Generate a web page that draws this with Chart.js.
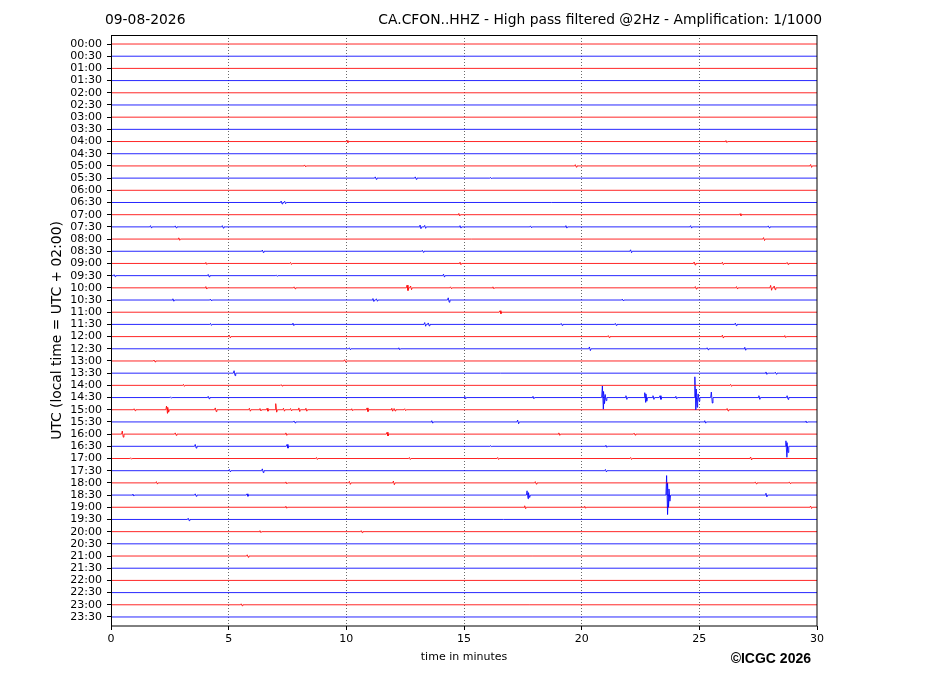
<!DOCTYPE html>
<html>
<head>
<meta charset="utf-8">
<script src="https://cdn.jsdelivr.net/npm/chart.js@4.4.0/dist/chart.umd.min.js"></script>
<style>
  html, body { margin: 0; padding: 0; background: #fff; }
  #wrap { width: 927px; height: 696px; position: relative; }
</style>
</head>
<body>
<div id="wrap"><canvas id="c"></canvas></div>
<script>
const dateLabel = '09-08-2026';
const titleText = 'CA.CFON..HHZ - High pass filtered @2Hz - Amplification: 1/1000';
const yTitle = 'UTC (local time = UTC + 02:00)';
const xTitle = 'time in minutes';
const creditText = '\u00A9ICGC 2026';

// Row (trace) labels, top to bottom
const rowLabels = [
  '00:00','00:30','01:00','01:30','02:00','02:30','03:00','03:30',
  '04:00','04:30','05:00','05:30','06:00','06:30','07:00','07:30',
  '08:00','08:30','09:00','09:30','10:00','10:30','11:00','11:30',
  '12:00','12:30','13:00','13:30','14:00','14:30','15:00','15:30',
  '16:00','16:30','17:00','17:30','18:00','18:30','19:00','19:30',
  '20:00','20:30','21:00','21:30','22:00','22:30','23:00','23:30'
];
const xTicks = [0, 5, 10, 15, 20, 25, 30];
const minutesPerRow = 30;

// Seismic events: row index, minute, amplitude up / down (in trace-spacing units)
const eventRow = [
  8, 8,
  10, 10, 10,
  11, 11, 11,
  13, 13,
  14, 14,
  15, 15, 15, 15, 15, 15, 15, 15, 15, 15,
  16, 16,
  17, 17, 17,
  18, 18, 18, 18, 18, 18,
  19, 19, 19, 19,
  20, 20, 20, 20, 20, 20, 20, 20, 20, 20,
  21, 21, 21, 21, 21, 21,
  22,
  23, 23, 23, 23, 23, 23, 23,
  24, 24, 24, 24,
  25, 25, 25, 25, 25,
  26, 26,
  27, 27, 27,
  28, 28, 28,
  29, 29, 29, 29, 29, 29, 29, 29, 29, 29, 29, 29, 29, 29, 29, 29, 29, 29, 29,
  30, 30, 30, 30, 30, 30, 30, 30, 30, 30, 30, 30, 30, 30, 30, 30, 30, 30,
  31, 31, 31, 31, 31,
  32, 32, 32, 32, 32, 32,
  33, 33, 33, 33, 33, 33,
  34, 34, 34, 34, 34, 34,
  35, 35, 35,
  36, 36, 36, 36, 36, 36, 36,
  37, 37, 37, 37, 37, 37, 37, 37, 37,
  38, 38, 38, 38,
  39,
  40, 40,
  42,
  46
];
const eventMin = [
  10.0, 26.1,
  8.2, 19.7, 29.7,
  11.2, 12.9, 16.1,
  7.2, 7.35,
  14.75, 26.7,
  1.65, 2.7, 4.7, 13.1, 13.3, 14.8, 17.8, 19.3, 24.6, 27.9,
  2.85, 27.7,
  6.4, 13.2, 22.05,
  4.0, 7.6, 14.8, 24.75, 25.95, 28.7,
  0.1, 4.1, 7.0, 14.1,
  4.0, 7.75, 12.55, 12.7, 14.4, 16.2, 24.8, 26.55, 28.0, 28.15,
  2.6, 4.2, 11.1, 11.25, 14.3, 21.7,
  16.5,
  4.2, 7.7, 13.3, 13.45, 19.1, 21.4, 26.5,
  5.0, 21.1, 25.95, 28.6,
  10.1, 12.2, 20.3, 25.3, 26.9,
  1.8, 9.9,
  5.2, 27.8, 28.2,
  3.05, 7.2, 26.3,
  2.5, 4.1, 15.0, 17.9, 20.85, 20.9, 20.97, 21.85, 22.65, 22.7, 23.0, 23.3, 23.97, 24.78, 24.84, 24.92, 25.48, 27.5, 28.7,
  0.95, 2.33, 2.38, 4.4, 5.85, 6.3, 6.6, 6.97, 7.3, 7.6, 7.95, 8.25, 10.2, 10.85, 11.9, 12.0, 12.45, 26.15,
  7.75, 13.6, 17.25, 25.2, 29.5,
  0.45, 2.7, 7.4, 11.7, 19.0, 22.2,
  3.55, 7.45, 16.1, 21.0, 28.65, 28.7,
  0.8, 8.7, 12.65, 16.4, 22.05, 27.15,
  5.0, 6.4, 20.98,
  1.9, 7.4, 10.1, 11.97, 18.0, 27.35, 28.8,
  0.9, 3.55, 5.75, 17.65, 17.72, 23.58, 23.62, 23.68, 27.8,
  7.4, 17.55, 20.1, 29.7,
  3.25,
  6.3, 10.6,
  5.76,
  5.5
];
const eventUp = [
  0.08, 0.08,
  0.08, 0.1, 0.12,
  0.1, 0.1, 0.06,
  0.12, 0.1,
  0.1, 0.08,
  0.1, 0.08, 0.1, 0.15, 0.12, 0.1, 0.08, 0.1, 0.1, 0.08,
  0.1, 0.12,
  0.1, 0.08, 0.12,
  0.08, 0.08, 0.1, 0.12, 0.1, 0.08,
  0.08, 0.1, 0.06, 0.12,
  0.1, 0.08, 0.22, 0.15, 0.08, 0.08, 0.1, 0.1, 0.2, 0.15,
  0.1, 0.08, 0.12, 0.1, 0.18, 0.08,
  0.12,
  0.08, 0.1, 0.15, 0.12, 0.08, 0.08, 0.1,
  0.1, 0.08, 0.12, 0.08,
  0.08, 0.08, 0.15, 0.08, 0.12,
  0.08, 0.1,
  0.2, 0.1, 0.08,
  0.08, 0.06, 0.08,
  0.06, 0.1, 0.1, 0.1, 0.95, 0.5, 0.25, 0.15, 0.4, 0.3, 0.15, 0.15, 0.1, 1.7, 0.7, 0.3, 0.45, 0.15, 0.15,
  0.08, 0.3, 0.2, 0.15, 0.12, 0.1, 0.12, 0.5, 0.12, 0.1, 0.15, 0.12, 0.08, 0.15, 0.12, 0.1, 0.08, 0.1,
  0.08, 0.1, 0.15, 0.1, 0.08,
  0.25, 0.1, 0.1, 0.15, 0.1, 0.08,
  0.15, 0.15, 0.06, 0.08, 0.45, 0.3,
  0.06, 0.08, 0.08, 0.08, 0.08, 0.12,
  0.1, 0.15, 0.1,
  0.1, 0.08, 0.12, 0.15, 0.1, 0.08, 0.08,
  0.08, 0.1, 0.1, 0.35, 0.2, 1.6, 1.0, 0.5, 0.15,
  0.08, 0.12, 0.08, 0.1,
  0.1,
  0.08, 0.08,
  0.1,
  0.08
];
const eventDown = [
  0.08, 0.08,
  0.08, 0.1, 0.12,
  0.1, 0.1, 0.06,
  0.12, 0.1,
  0.1, 0.08,
  0.1, 0.08, 0.1, 0.15, 0.12, 0.1, 0.08, 0.1, 0.1, 0.08,
  0.1, 0.12,
  0.1, 0.08, 0.12,
  0.08, 0.08, 0.1, 0.12, 0.1, 0.08,
  0.08, 0.1, 0.06, 0.12,
  0.1, 0.08, 0.22, 0.15, 0.08, 0.08, 0.1, 0.1, 0.2, 0.15,
  0.1, 0.08, 0.12, 0.1, 0.18, 0.08,
  0.12,
  0.08, 0.1, 0.15, 0.12, 0.08, 0.08, 0.1,
  0.1, 0.08, 0.12, 0.08,
  0.08, 0.08, 0.15, 0.08, 0.12,
  0.08, 0.1,
  0.2, 0.1, 0.08,
  0.08, 0.06, 0.08,
  0.06, 0.1, 0.1, 0.1, 0.95, 0.5, 0.25, 0.15, 0.4, 0.3, 0.15, 0.15, 0.1, 1.0, 0.8, 0.3, 0.45, 0.15, 0.15,
  0.08, 0.3, 0.2, 0.15, 0.12, 0.1, 0.12, 0.2, 0.12, 0.1, 0.15, 0.12, 0.08, 0.15, 0.12, 0.1, 0.08, 0.1,
  0.08, 0.1, 0.15, 0.1, 0.08,
  0.25, 0.1, 0.1, 0.15, 0.1, 0.08,
  0.15, 0.15, 0.06, 0.08, 0.9, 0.5,
  0.06, 0.08, 0.08, 0.08, 0.08, 0.12,
  0.1, 0.15, 0.1,
  0.1, 0.08, 0.12, 0.15, 0.1, 0.08, 0.08,
  0.08, 0.1, 0.1, 0.3, 0.2, 1.6, 1.0, 0.5, 0.15,
  0.08, 0.12, 0.08, 0.1,
  0.1,
  0.08, 0.08,
  0.1,
  0.08
];
const traceColors = ['rgba(255,0,0,0.85)', 'rgba(0,0,255,0.85)'];

// ---- Build one line dataset per trace row ----
const datasets = rowLabels.map((lab, r) => {
  const evs = [];
  eventRow.forEach((er, i) => { if (er === r) evs.push(i); });
  evs.sort((a, b) => eventMin[a] - eventMin[b]);
  const pts = [{x: 0, y: r}];
  evs.forEach(i => {
    const m = eventMin[i];
    pts.push({x: m, y: r});
    pts.push({x: m + 0.03, y: r - eventUp[i]});
    pts.push({x: m + 0.07, y: r + eventDown[i]});
    pts.push({x: m + 0.1, y: r});
  });
  pts.push({x: minutesPerRow, y: r});
  return {
    label: lab,
    data: pts,
    borderColor: traceColors[r % 2],
    borderWidth: 1,
    pointRadius: 0,
    tension: 0,
    fill: false
  };
});

const FONT = "'DejaVu Sans', sans-serif";

const framePlugin = {
  id: 'frameAndText',
  afterDraw(chart) {
    const ctx = chart.ctx;
    const a = chart.chartArea;
    ctx.save();
    ctx.strokeStyle = '#000';
    ctx.lineWidth = 1;
    ctx.strokeRect(Math.round(a.left) + 0.5, Math.round(a.top) + 0.5,
                   Math.round(a.right - a.left) - 1 + 0.5, Math.round(a.bottom - a.top) - 0.5);
    ctx.fillStyle = '#000';
    ctx.font = '13.85px ' + FONT;
    ctx.textBaseline = 'middle';
    ctx.textAlign = 'left';
    ctx.fillText(dateLabel, a.left - 6, a.top - 15);
    ctx.textAlign = 'right';
    ctx.fillText(titleText, a.right + 5, a.top - 15);
    // y title
    ctx.save();
    ctx.translate(a.left - 54, (a.top + a.bottom) / 2);
    ctx.rotate(-Math.PI / 2);
    ctx.textAlign = 'center';
    ctx.font = '13.85px ' + FONT;
    ctx.fillText(yTitle, 0, 0);
    ctx.restore();
    // x title
    ctx.font = '11px ' + FONT;
    ctx.textAlign = 'center';
    ctx.fillText(xTitle, (a.left + a.right) / 2, a.bottom + 31);
    // credit
    ctx.font = "bold 14px 'Liberation Sans', Arial, sans-serif";
    ctx.textAlign = 'right';
    ctx.fillText(creditText, a.right - 6, a.bottom + 33);
    ctx.restore();
  }
};

new Chart(document.getElementById('c'), {
  type: 'line',
  data: { datasets },
  options: {
    responsive: true,
    maintainAspectRatio: false,
    animation: false,
    devicePixelRatio: 1,
    layout: { padding: { left: 0, right: 110, top: 35, bottom: 0 } },
    plugins: { legend: { display: false }, tooltip: { enabled: false }, title: { display: false } },
    elements: { line: { borderJoinStyle: 'miter' } },
    scales: {
      x: {
        type: 'linear',
        min: 0,
        max: minutesPerRow,
        afterBuildTicks: s => { s.ticks = xTicks.map(v => ({value: v})); },
        afterFit: s => { s.height = 70; },
        ticks: { font: { family: FONT, size: 11 }, color: '#000', padding: 3, maxRotation: 0 },
        border: { display: false, dash: [1, 2] },
        grid: {
          color: ctx => (ctx.tick && (ctx.tick.value === 0 || ctx.tick.value === minutesPerRow)) ? 'rgba(0,0,0,0)' : '#444',
          lineWidth: 0.8,
          drawTicks: true,
          tickLength: 4,
          tickColor: '#000',
          tickWidth: 1,
          tickBorderDash: []
        }
      },
      y: {
        type: 'linear',
        reverse: true,
        min: -0.74,
        max: rowLabels.length - 1 + 0.74,
        afterBuildTicks: s => { s.ticks = rowLabels.map((l, i) => ({value: i})); },
        afterFit: s => { s.width = 111; },
        ticks: {
          autoSkip: false,
          font: { family: FONT, size: 11 },
          color: '#000',
          padding: 5,
          callback: v => rowLabels[v]
        },
        border: { display: false },
        grid: {
          drawOnChartArea: false,
          drawTicks: true,
          tickLength: 4,
          tickColor: '#000',
          tickWidth: 1
        }
      }
    }
  },
  plugins: [framePlugin]
});
</script>
</body>
</html>
